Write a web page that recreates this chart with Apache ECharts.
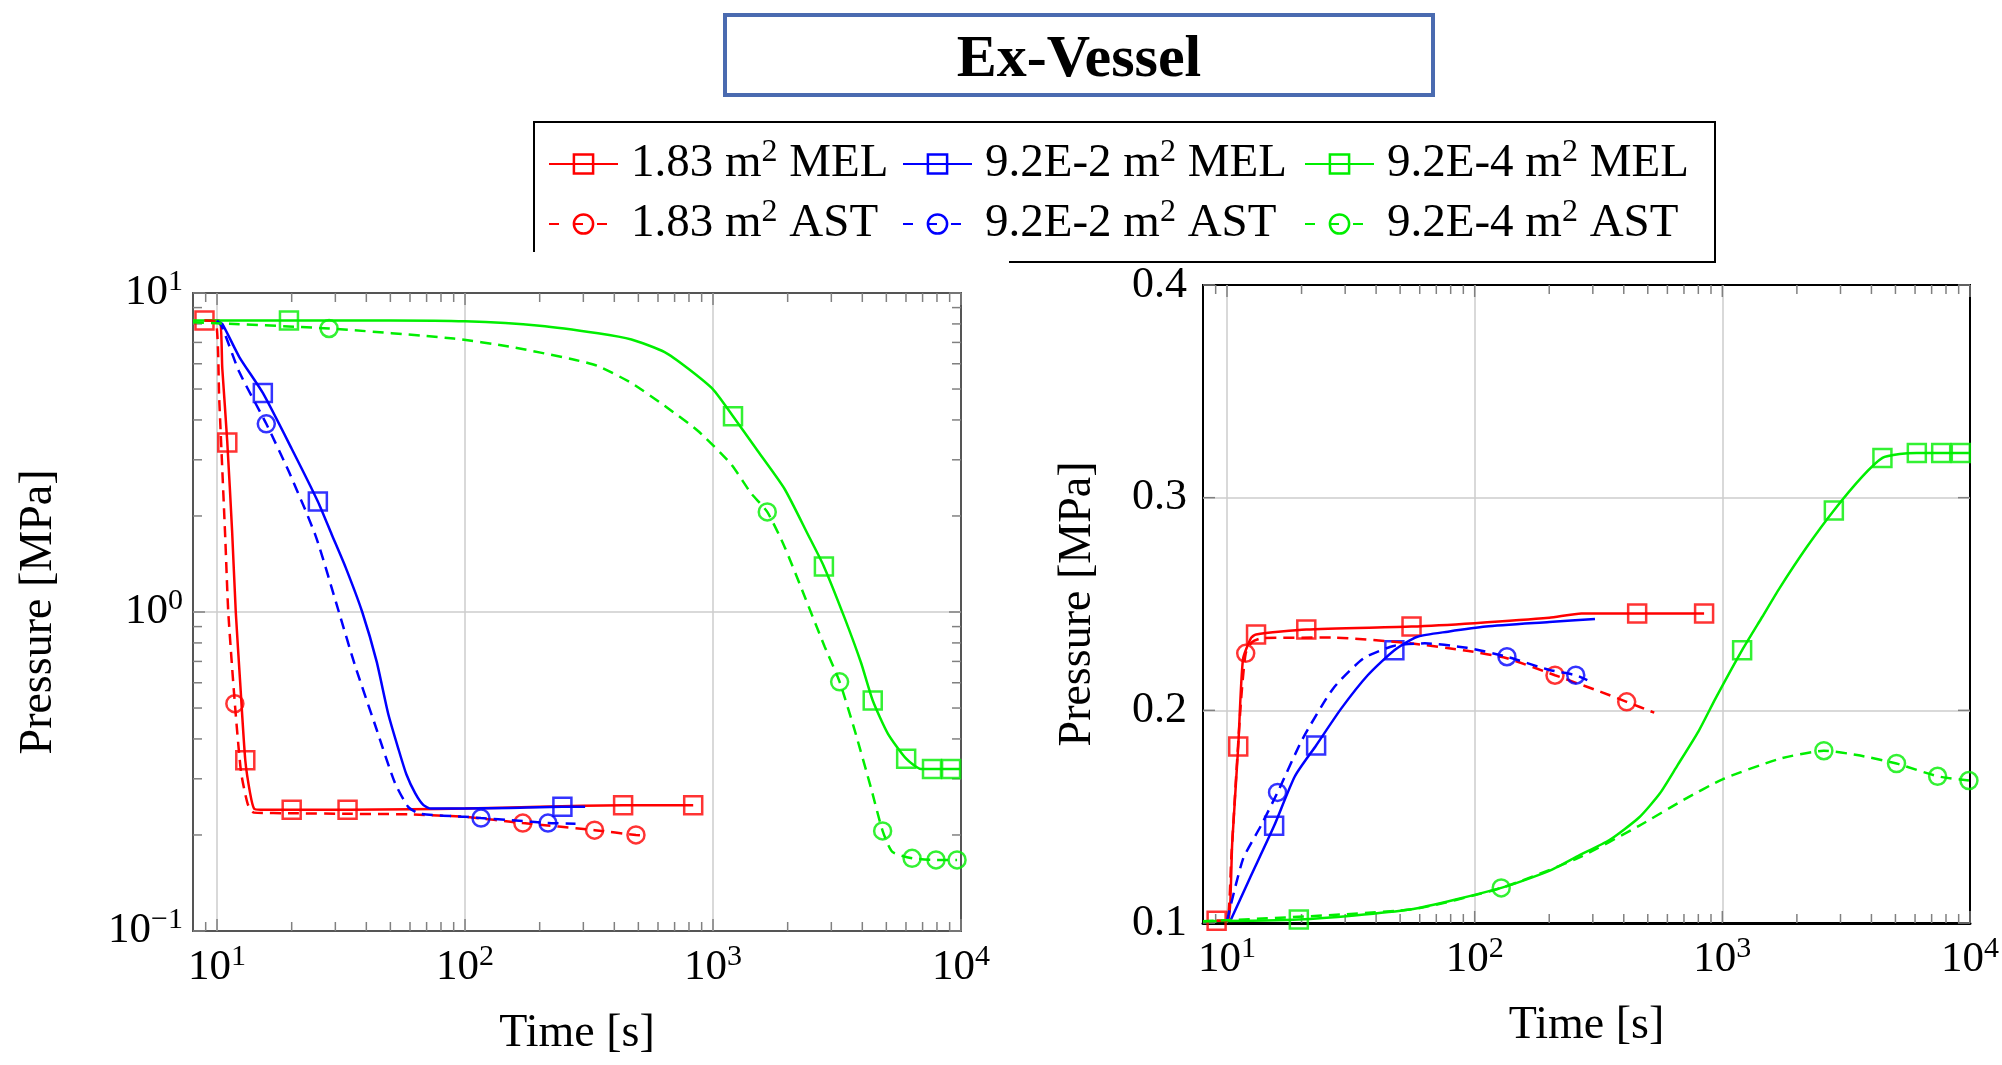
<!DOCTYPE html>
<html>
<head>
<meta charset="utf-8">
<script src="https://cdn.jsdelivr.net/npm/echarts@6/dist/echarts.min.js"></script>
<style>
html, body { margin: 0; padding: 0; background: #fff; }
#chart { width: 2002px; height: 1065px; }
</style>
</head>
<body>
<div id="chart"></div>
<script>
// tick values
const timeTicksMajor = [10, 100, 1000, 10000];
const timeTicksMinor = [9, 20, 30, 40, 50, 60, 70, 80, 90, 200, 300, 400, 500, 600, 700, 800, 900,
  2000, 3000, 4000, 5000, 6000, 7000, 8000, 9000];
const logPressTicksMajor = [0.1, 1, 10];
const logPressTicksMinor = [0.2, 0.3, 0.4, 0.5, 0.6, 0.7, 0.8, 0.9, 2, 3, 4, 5, 6, 7, 8, 9];
const linPressTicks = [0.1, 0.2, 0.3, 0.4];

const seriesNames = ['1.83 m2 MEL', '9.2E-2 m2 MEL', '9.2E-4 m2 MEL', '1.83 m2 AST', '9.2E-2 m2 AST', '9.2E-4 m2 AST'];

// left plot (vessel pressure), [time s, pressure MPa]
const vesRedMel = [[8.9, 8.2], [10.2, 8.2], [10.5, 5.8], [11.0, 3.4], [11.5, 1.8], [11.9, 1.0], [12.4, 0.6], [13.0, 0.343],
  [13.6, 0.27], [14.1, 0.242], [15, 0.240], [20, 0.240], [34, 0.240], [60, 0.241], [100, 0.242], [200, 0.245],
  [300, 0.247], [434, 0.248], [832, 0.248]];
const vesRedMelMarks = [[8.9, 8.2], [11.0, 3.4], [13.0, 0.343], [20, 0.240], [33.6, 0.240], [434, 0.248], [832, 0.248]];
const vesBlueMel = [[10.0, 8.2], [10.5, 8.0], [12.3, 6.3], [15.3, 4.86], [20, 3.25], [25.5, 2.22], [29, 1.75], [33, 1.38],
  [38.5, 1.0], [44, 0.7], [49, 0.48], [54, 0.37], [58, 0.31], [63, 0.27], [68, 0.248], [73, 0.242], [100, 0.242],
  [150, 0.243], [247, 0.245], [305, 0.245]];
const vesBlueMelMarks = [[15.3, 4.86], [25.5, 2.22], [247, 0.245]];
const vesGreenMel = [[8.0, 8.2], [19.5, 8.2], [50, 8.2], [100, 8.15], [200, 7.9], [344, 7.48], [469, 7.15], [638, 6.53],
  [793, 5.8], [1000, 4.99], [1204, 4.11], [1518, 3.19], [1944, 2.43], [2414, 1.75], [2800, 1.39], [3390, 0.96],
  [3956, 0.692], [4406, 0.528], [5070, 0.416], [6010, 0.347], [6900, 0.322], [7640, 0.322], [9120, 0.322], [9900, 0.322]];
const vesGreenMelMarks = [[19.5, 8.2], [1204, 4.11], [2800, 1.39], [4406, 0.528], [6010, 0.347], [7640, 0.322], [9120, 0.322]];
const vesRedAst = [[8.9, 8.2], [9.9, 8.1], [10.2, 4.7], [10.8, 1.69], [11.1, 1.0], [11.8, 0.516], [12.5, 0.315],
  [13.3, 0.25], [14.1, 0.235], [20, 0.234], [34, 0.233], [60, 0.232], [100, 0.228], [171, 0.218], [333, 0.207],
  [489, 0.200], [525, 0.199]];
const vesRedAstMarks = [[11.8, 0.516], [171, 0.218], [333, 0.207], [489, 0.200]];
const vesBlueAst = [[10.0, 8.2], [10.5, 7.8], [12.3, 5.65], [15.8, 3.89], [19.5, 2.75], [25, 1.73], [31, 1.0], [36, 0.68],
  [43.5, 0.44], [52, 0.293], [59, 0.245], [66, 0.233], [100, 0.228], [116, 0.226], [160, 0.222], [216, 0.218], [279, 0.217]];
const vesBlueAstMarks = [[15.8, 3.89], [116, 0.226], [216, 0.218]];
const vesGreenAst = [[8.0, 8.1], [28.3, 7.74], [90, 7.2], [150, 6.8], [271, 6.2], [344, 5.9], [469, 5.22], [638, 4.43],
  [868, 3.70], [1181, 2.91], [1422, 2.36], [1655, 2.06], [1944, 1.60], [2340, 1.12], [2818, 0.78], [3240, 0.604],
  [3720, 0.428], [4330, 0.282], [4830, 0.206], [5290, 0.177], [6350, 0.169], [7930, 0.167], [9640, 0.167]];
const vesGreenAstMarks = [[28.3, 7.74], [1655, 2.06], [3240, 0.604], [4830, 0.206], [6350, 0.169], [7930, 0.167], [9640, 0.167]];

// right plot (containment pressure), [time s, pressure MPa]
const conRedMel = [[9.08, 0.101], [10.1, 0.101], [10.5, 0.138], [11.1, 0.183], [11.6, 0.224], [12.5, 0.234], [13.1, 0.2357],
  [20.9, 0.238], [55.6, 0.2394], [100, 0.241], [200, 0.2435], [270, 0.2455], [453, 0.2455], [844, 0.2455]];
const conRedMelMarks = [[9.08, 0.101], [11.1, 0.183], [13.1, 0.2357], [20.9, 0.238], [55.6, 0.2394], [453, 0.2455], [844, 0.2455]];
const conBlueMel = [[10.3, 0.1008], [12.3, 0.1205], [15.5, 0.1457], [18.8, 0.169], [22.9, 0.1835], [28.9, 0.2008],
  [37, 0.2165], [47.4, 0.2283], [58.7, 0.2346], [78, 0.237], [111, 0.2394], [200, 0.2415], [306, 0.243]];
const conBlueMelMarks = [[15.5, 0.1457], [22.9, 0.1835], [47.4, 0.2283]];
const conGreenMel = [[8.0, 0.1008], [19.5, 0.1016], [54.7, 0.1063], [128, 0.1165], [200, 0.1245], [261, 0.1315],
  [350, 0.139], [461, 0.1496], [560, 0.161], [658, 0.174], [800, 0.19], [938, 0.2055], [1202, 0.2283], [1450, 0.244],
  [1703, 0.2575], [2200, 0.277], [2820, 0.294], [3680, 0.310], [4430, 0.3187], [5200, 0.3205], [6100, 0.321],
  [7650, 0.321], [9180, 0.321], [9900, 0.321]];
const conGreenMelMarks = [[19.5, 0.1016], [1202, 0.2283], [2820, 0.294], [4430, 0.3187], [6100, 0.321], [7650, 0.321], [9180, 0.321]];
const conRedAst = [[9.08, 0.101], [10.0, 0.101], [10.4, 0.13], [10.9, 0.17], [11.4, 0.205], [11.9, 0.2268], [12.6, 0.232],
  [13.9, 0.234], [26.8, 0.2342], [54.7, 0.2315], [93, 0.228], [135, 0.2245], [211, 0.2165], [323, 0.2087],
  [411, 0.204], [531, 0.1989]];
const conRedAstMarks = [[11.9, 0.2268], [211, 0.2165], [411, 0.204]];
const conBlueAst = [[10.0, 0.101], [11.6, 0.13], [13.7, 0.1457], [16.0, 0.1614], [20.2, 0.1866], [26.8, 0.2102],
  [35.6, 0.2244], [47.4, 0.2304], [63, 0.2315], [93, 0.2294], [135, 0.2252], [200, 0.219], [256, 0.2165], [285, 0.2142]];
const conBlueAstMarks = [[16.0, 0.1614], [135, 0.2252], [256, 0.2165]];
const conGreenAst = [[8.0, 0.1008], [54.7, 0.1063], [128, 0.1165], [261, 0.1305], [461, 0.1457], [700, 0.158],
  [1007, 0.1677], [1703, 0.1772], [2570, 0.181], [3500, 0.179], [5050, 0.175], [7400, 0.169], [9900, 0.167]];
const conGreenAstMarks = [[128, 0.1165], [2570, 0.181], [5050, 0.175], [7400, 0.169], [9900, 0.167]];

const vesCurves = [vesRedMel, vesBlueMel, vesGreenMel, vesRedAst, vesBlueAst, vesGreenAst];
const vesMarks = [vesRedMelMarks, vesBlueMelMarks, vesGreenMelMarks, vesRedAstMarks, vesBlueAstMarks, vesGreenAstMarks];
const conCurves = [conRedMel, conBlueMel, conGreenMel, conRedAst, conBlueAst, conGreenAst];
const conMarks = [conRedMelMarks, conBlueMelMarks, conGreenMelMarks, conRedAstMarks, conBlueAstMarks, conGreenAstMarks];

const FONT = 'Liberation Serif, serif';
const colors = ['#ff0000', '#0000ff', '#00ee00', '#ff0000', '#0000ff', '#00ee00'];

const chart = echarts.init(document.getElementById('chart'), null, { renderer: 'canvas' });

// 10^n labels
function powLabel(v) {
  const e = Math.log10(v);
  if (Math.abs(e - Math.round(e)) > 1e-6) return '';
  const n = Math.round(e);
  return '{b|10}{s|' + (n < 0 ? '\u2212' + (-n) : n) + '}';
}
const tickRich = {
  b: { fontFamily: FONT, fontSize: 43, lineHeight: 52, color: '#000' },
  s: { fontFamily: FONT, fontSize: 30, lineHeight: 30, verticalAlign: 'top', color: '#000' }
};
const nameStyle = { fontFamily: FONT, fontSize: 46, color: '#000' };
const gridLine = { show: true, showMinLine: false, showMaxLine: false, lineStyle: { color: '#cccccc', width: 1.5 } };

function timeAxis(grid, gap, line) {
  return {
    type: 'log', logBase: 10, gridIndex: grid, min: 8, max: 10000,
    name: 'Time [s]', nameLocation: 'middle', nameGap: gap, nameTextStyle: nameStyle,
    axisLine: { show: line, onZero: false, lineStyle: { color: '#000', width: 3 } },
    axisTick: { show: false },
    splitLine: gridLine,
    axisLabel: { margin: 11, fontFamily: FONT, formatter: powLabel, rich: tickRich }
  };
}

function curveSeries(i, grid, curve, marks) {
  const ast = i >= 3;
  const color = colors[i];
  const symbol = ast ? 'circle' : 'rect';
  const size = ast ? 17 : 18;
  const item = { color: 'rgba(0,0,0,0)', borderColor: color, borderWidth: 2.5 };
  return [{
    type: 'line', name: seriesNames[i], xAxisIndex: grid, yAxisIndex: grid,
    data: curve, symbol: symbol, symbolSize: size, showSymbol: false, smooth: 0.2,
    lineStyle: { color: color, width: 2.5, type: ast ? [11, 7] : 'solid' },
    itemStyle: item, z: 3 + i, silent: true
  }, {
    type: 'scatter', name: seriesNames[i], xAxisIndex: grid, yAxisIndex: grid,
    data: marks, symbol: symbol, symbolSize: size, itemStyle: item, z: 3 + i, silent: true
  }];
}

// tick marks on all four sides, placed through the axes
function tickSeries(grid, dim, values, len, other) {
  return {
    type: 'custom', xAxisIndex: grid, yAxisIndex: grid, silent: true, z: 2,
    data: values.map(v => dim === 'x' ? [v, other] : [other, v]),
    renderItem: function (params, api) {
      const cs = params.coordSys;
      const p = api.coord([api.value(0), api.value(1)]);
      const st = { stroke: '#808080', lineWidth: 1.5 };
      if (dim === 'x') {
        return { type: 'group', children: [
          { type: 'line', shape: { x1: p[0], y1: cs.y + cs.height, x2: p[0], y2: cs.y + cs.height - len }, style: st },
          { type: 'line', shape: { x1: p[0], y1: cs.y, x2: p[0], y2: cs.y + len }, style: st }
        ] };
      }
      return { type: 'group', children: [
        { type: 'line', shape: { x1: cs.x, y1: p[1], x2: cs.x + len, y2: p[1] }, style: st },
        { type: 'line', shape: { x1: cs.x + cs.width, y1: p[1], x2: cs.x + cs.width - len, y2: p[1] }, style: st }
      ] };
    }
  };
}

const series = [];
for (let i = 0; i < 6; i++) series.push(...curveSeries(i, 0, vesCurves[i], vesMarks[i]));
for (let i = 0; i < 6; i++) series.push(...curveSeries(i, 1, conCurves[i], conMarks[i]));
series.push(tickSeries(0, 'x', timeTicksMajor, 12, 0.1));
series.push(tickSeries(0, 'x', timeTicksMinor, 9, 0.1));
series.push(tickSeries(0, 'y', logPressTicksMajor, 12, 8));
series.push(tickSeries(0, 'y', logPressTicksMinor, 9, 8));
series.push(tickSeries(1, 'x', timeTicksMajor, 12, 0.1));
series.push(tickSeries(1, 'x', timeTicksMinor, 9, 0.1));
series.push(tickSeries(1, 'y', linPressTicks, 12, 8));

const legendLefts = [548, 902, 1304];
const legendTops = [137, 197];
const legends = seriesNames.map((n, i) => ({
  data: [n], left: legendLefts[i % 3], top: legendTops[Math.floor(i / 3)], padding: 0,
  itemWidth: 69, itemHeight: 24, selectedMode: false,
  formatter: name => '{b|' + name.replace(' m2 ', ' m}{s|2}{b| ') + '}',
  itemStyle: { borderWidth: 2.5 },
  lineStyle: i >= 3 ? { type: [10, 14] } : {},
  textStyle: {
    fontFamily: FONT,
    padding: [0, 0, 0, 8],
    rich: {
      b: { fontFamily: FONT, fontSize: 47, lineHeight: 54, color: '#000' },
      s: { fontFamily: FONT, fontSize: 32, lineHeight: 30, verticalAlign: 'top', color: '#000' }
    }
  }
}));

const option = {
  animation: false,
  backgroundColor: '#fff',
  textStyle: { fontFamily: FONT },
  title: {
    text: 'Ex-Vessel', left: 1079, top: 30, textAlign: 'center', padding: 0,
    textStyle: { fontFamily: FONT, fontWeight: 'bold', fontSize: 60, color: '#000' }
  },
  graphic: [
    { type: 'rect', silent: true, shape: { x: 725, y: 15, width: 708, height: 80 },
      style: { fill: 'none', stroke: '#4a6bb0', lineWidth: 4 } },
    { type: 'polyline', silent: true, shape: { points: [[534, 252], [534, 122], [1715, 122], [1715, 262], [1009, 262]] },
      style: { fill: 'none', stroke: '#000', lineWidth: 2 } }
  ],
  legend: legends,
  grid: [
    { left: 193, top: 293, width: 768, height: 638, show: true, borderColor: '#555', borderWidth: 2 },
    { left: 1203, top: 285, width: 767, height: 638, show: true, borderColor: '#000', borderWidth: 2 }
  ],
  xAxis: [timeAxis(0, 80, false), timeAxis(1, 80, true)],
  yAxis: [{
    type: 'log', logBase: 10, gridIndex: 0, min: 0.1, max: 10,
    name: 'Pressure [MPa]', nameLocation: 'middle', nameGap: 131, nameTextStyle: nameStyle,
    axisLine: { show: false }, axisTick: { show: false }, splitLine: gridLine,
    axisLabel: { margin: 10, fontFamily: FONT, formatter: powLabel, rich: tickRich }
  }, {
    type: 'value', gridIndex: 1, min: 0.1, max: 0.4, interval: 0.1,
    name: 'Pressure [MPa]', nameLocation: 'middle', nameGap: 102, nameTextStyle: nameStyle,
    axisLine: { show: false }, axisTick: { show: false }, splitLine: gridLine,
    axisLabel: { margin: 16, fontFamily: FONT, fontSize: 44, color: '#000', formatter: v => v.toFixed(1) }
  }],
  series: series
};
chart.setOption(option);
</script>
</body>
</html>
